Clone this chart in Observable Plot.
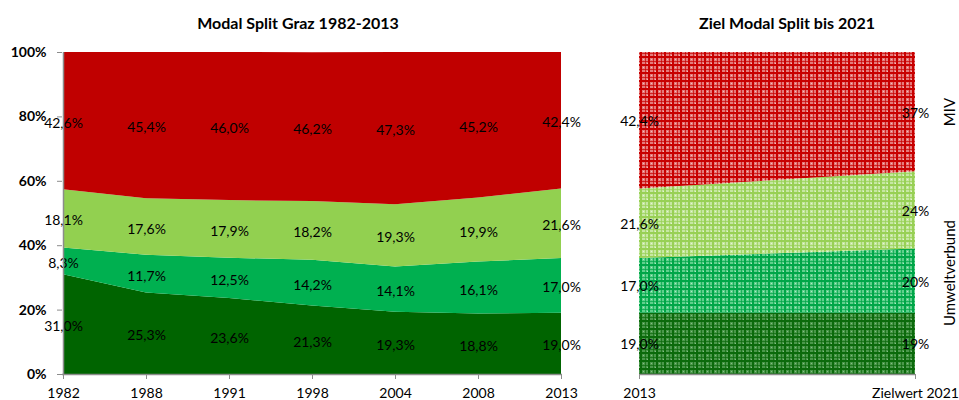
<!DOCTYPE html>
<html><head><meta charset="utf-8">
<script src="https://cdn.jsdelivr.net/npm/d3@7"></script>
<script src="https://cdn.jsdelivr.net/npm/@observablehq/plot@0.6"></script>
<style>
body{margin:0;background:#fff;font-family:Lato,"Open Sans",sans-serif;}
#wrap{position:relative;width:959px;height:400px;overflow:hidden;}
.title{position:absolute;top:13px;font-weight:bold;font-size:16px;transform:translateX(-50%);white-space:nowrap;color:#000;line-height:19px}
#left{position:absolute;left:0;top:0}
#right{position:absolute;left:600px;top:0}
</style></head><body>
<div id="wrap">
<div id="left"></div><div id="right"></div>
<div class="title" style="left:298px">Modal Split Graz 1982-2013</div>
<div class="title" style="left:787px">Ziel Modal Split bis 2021</div>
</div>
<script>
// ---- data ----
const years = ["1982","1988","1991","1998","2004","2008","2013"];
const modes = ["Fußverkehr","Radverkehr","Öffentlicher Verkehr","MIV"];
const fuss = [31.0,25.3,23.6,21.3,19.3,18.8,19.0];
const rad  = [8.3,11.7,12.5,14.2,14.1,16.1,17.0];
const oev  = [18.1,17.6,17.9,18.2,19.3,19.9,21.6];
const miv  = [42.6,45.4,46.0,46.2,47.3,45.2,42.4];
const colors = ["#006400","#00B050","#92D050","#C00000"];
const yTicks = [0,20,40,60,80,100];

const targetCols = ["2013","Zielwert 2021"];
const target2013 = [19.0,17.0,21.6,42.4];
const target2021 = [19,20,24,37];
const groupLabels = ["Umweltverbund","MIV"];
const groupModes = [[0,1,2],[3]];

// ---- helpers ----
const fmt1 = v => v.toFixed(1).replace(".", ",") + "%";
const fmt0 = v => v.toFixed(0) + "%";
const font = {fontSize:"14px", fontFamily:"Lato, 'Open Sans', sans-serif", background:"transparent", color:"#000"};

// ---- left chart ----
const series = [fuss, rad, oev, miv];
const rows = [];
years.forEach((y,i) => modes.forEach((m,j) => rows.push({year:y, mode:m, value:series[j][i]})));

const left = Plot.plot({
  width:600, height:400,
  marginLeft:62, marginRight:38, marginTop:52, marginBottom:26,
  style: font,
  x:{domain:years, type:"point", padding:0},
  y:{domain:[0,100]},
  color:{domain:modes, range:colors},
  marks:[
    Plot.areaY(rows, Plot.stackY({x:"year", y:"value", fill:"mode", z:"mode", order:modes})),
    Plot.text(rows, Plot.stackY({x:"year", y:"value", z:"mode", order:modes, text:d=>fmt1(d.value), fill:"black", dy:2})),
    Plot.ruleY([0], {stroke:"#8c8c8c", strokeWidth:1.5}),
    Plot.ruleX([years[0]], {stroke:"#8c8c8c", strokeWidth:1.5}),
    Plot.axisX({tickSize:5, tickPadding:9, stroke:"#8c8c8c", fill:"black", label:null}),
    Plot.axisY({ticks:yTicks, tickSize:5, tickPadding:11, stroke:"#8c8c8c", fill:"black", fontWeight:"bold", tickFormat:d=>d+"%", label:null})
  ]
});
document.getElementById("left").appendChild(left);

// ---- right chart ----
const rows2 = [];
[target2013, target2021].forEach((arr,i) => modes.forEach((m,j) => rows2.push({col:targetCols[i], mode:m, value:arr[j], label:i===0?fmt1(arr[j]):fmt0(arr[j])})));
const grp = groupLabels.map((g,k) => {
  const before = d3.sum(target2021.slice(0, groupModes[k][0]));
  const span = d3.sum(groupModes[k].map(j => target2021[j]));
  return {label:g, y:before + span/2};
});
const patIds = ["patDark","patGreen","patLight","patRed"];

const right = Plot.plot({
  width:359, height:400,
  marginLeft:39, marginRight:44, marginTop:52, marginBottom:26,
  style: font,
  x:{domain:targetCols, type:"point", padding:0},
  y:{domain:[0,100], axis:null},
  color:{domain:modes, range:patIds.map(id=>`url(#${id})`)},
  marks:[
    Plot.areaY(rows2, Plot.stackY({x:"col", y:"value", fill:"mode", z:"mode", order:modes})),
    Plot.text(rows2, Plot.stackY({x:"col", y:"value", z:"mode", order:modes, text:"label", fill:"black", dy:1})),
    Plot.ruleY([0], {stroke:"#8c8c8c", strokeWidth:1.5}),
    Plot.text(grp, {x:()=>targetCols[1], y:"y", text:"label", rotate:-90, dx:35, fill:"black", fontSize:15}),
    Plot.axisX({tickSize:5, tickPadding:9, stroke:"#8c8c8c", fill:"black", label:null})
  ]
});
// patterns
const pat = [
  {id:"patDark",  bg:"#4a984a", line:"#0b6a0b", dot:"#86bd86"},
  {id:"patGreen", bg:"#5fd08c", line:"#00a648", dot:"#b0eac6"},
  {id:"patLight", bg:"#c6e7a2", line:"#98d055", dot:"#e6f5d5"},
  {id:"patRed",   bg:"#e57a7a", line:"#c80000", dot:"#f4bdbd"}
];
const defs = d3.select(right).insert("defs", ":first-child");
pat.forEach(p => {
  const g = defs.append("pattern").attr("id", p.id).attr("patternUnits","userSpaceOnUse").attr("width",8).attr("height",8);
  g.append("rect").attr("width",8).attr("height",8).attr("fill",p.bg);
  g.append("rect").attr("x",0).attr("y",0).attr("width",2).attr("height",8).attr("fill",p.line);
  g.append("rect").attr("x",0).attr("y",0).attr("width",8).attr("height",2).attr("fill",p.line);
  g.append("rect").attr("x",5).attr("y",0).attr("width",1).attr("height",8).attr("fill",p.line).attr("opacity",0.7);
  g.append("rect").attr("x",0).attr("y",5).attr("width",8).attr("height",1).attr("fill",p.line).attr("opacity",0.7);
  g.append("rect").attr("x",3).attr("y",3).attr("width",1).attr("height",1).attr("fill",p.dot);
  g.append("rect").attr("x",7).attr("y",7).attr("width",1).attr("height",1).attr("fill",p.dot);
});
document.getElementById("right").appendChild(right);
</script>
</body></html>
